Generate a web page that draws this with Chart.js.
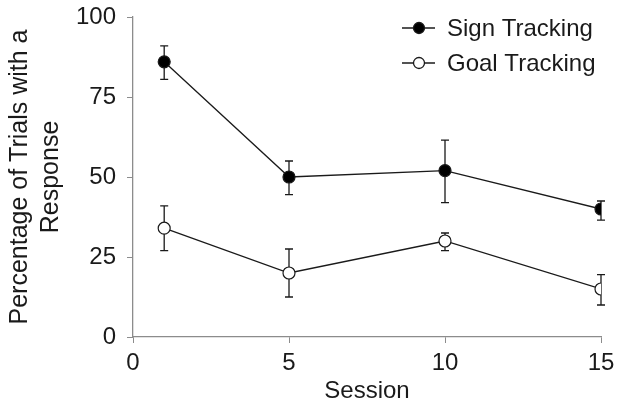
<!DOCTYPE html>
<html>
<head>
<meta charset="utf-8">
<script src="https://cdn.jsdelivr.net/npm/chart.js@4/dist/chart.umd.min.js"></script>
<style>
  html, body { margin: 0; padding: 0; background: #fff; }
  #wrap { width: 617px; height: 408px; }
</style>
</head>
<body>
<div id="wrap"><canvas id="chart"></canvas></div>
<script>
const sessions = [1, 5, 10, 15];
const signTracking = [86, 50, 52, 40];
const signErrLow = [80.5, 44.5, 42, 36.5];
const signErrHigh = [91, 55, 61.5, 42.5];
const goalTracking = [34, 20, 30, 15];
const goalErrLow = [27, 12.5, 27, 10];
const goalErrHigh = [41, 27.5, 32.5, 19.5];
const xTicks = [0, 5, 10, 15];
const yTicks = [0, 25, 50, 75, 100];

const font = 'Arial, "Liberation Sans", sans-serif';
const ink = '#1a1a1a';
const fontSize = 24;

const errorBars = {
    id: 'errorBars',
    beforeDatasetsDraw(chart) {
        const ctx = chart.ctx;
        const xs = chart.scales.x, ys = chart.scales.y;
        const sets = [[signErrLow, signErrHigh], [goalErrLow, goalErrHigh]];
        ctx.save();
        ctx.strokeStyle = ink;
        ctx.lineWidth = 1.3;
        sets.forEach(([lo, hi]) => {
            sessions.forEach((s, i) => {
                const x = xs.getPixelForValue(s);
                const y1 = ys.getPixelForValue(lo[i]);
                const y2 = ys.getPixelForValue(hi[i]);
                ctx.beginPath();
                ctx.moveTo(x, y1); ctx.lineTo(x, y2);
                ctx.moveTo(x - 4, y1); ctx.lineTo(x + 4, y1);
                ctx.moveTo(x - 4, y2); ctx.lineTo(x + 4, y2);
                ctx.stroke();
            });
        });
        ctx.restore();
    }
};

// legend drawn as line-through-marker, like the original figure
const legendBox = {
    id: 'legendBox',
    afterDraw(chart) {
        const ctx = chart.ctx;
        const items = [
            { label: 'Sign Tracking', fill: '#000' },
            { label: 'Goal Tracking', fill: '#fff' }
        ];
        ctx.save();
        items.forEach((it, i) => {
            const y = 28 + i * 35;
            ctx.strokeStyle = ink;
            ctx.lineWidth = 1.3;
            ctx.beginPath();
            ctx.moveTo(402, y); ctx.lineTo(435, y);
            ctx.stroke();
            ctx.beginPath();
            ctx.arc(419, y, 5.5, 0, Math.PI * 2);
            ctx.fillStyle = it.fill;
            ctx.fill();
            ctx.stroke();
            ctx.fillStyle = ink;
            ctx.font = fontSize + 'px ' + font;
            ctx.textBaseline = 'middle';
            ctx.fillText(it.label, 447, y + 1);
        });
        ctx.restore();
    }
};

new Chart(document.getElementById('chart').getContext('2d'), {
    type: 'line',
    data: {
        datasets: [{
            label: 'Sign Tracking',
            data: sessions.map((s, i) => ({ x: s, y: signTracking[i] })),
            borderColor: ink,
            borderWidth: 1.3,
            pointBackgroundColor: '#000',
            pointBorderColor: ink,
            pointRadius: 6,
            pointBorderWidth: 1.2
        }, {
            label: 'Goal Tracking',
            data: sessions.map((s, i) => ({ x: s, y: goalTracking[i] })),
            borderColor: ink,
            borderWidth: 1.3,
            pointBackgroundColor: '#fff',
            pointBorderColor: ink,
            pointRadius: 6,
            pointBorderWidth: 1.2
        }]
    },
    options: {
        responsive: true,
        maintainAspectRatio: false,
        animation: false,
        layout: { padding: { top: 17, right: 16, left: 4, bottom: 2 } },
        plugins: { legend: { display: false }, tooltip: { enabled: false } },
        scales: {
            x: {
                type: 'linear',
                min: 0, max: 15,
                afterBuildTicks: axis => { axis.ticks = xTicks.map(v => ({ value: v })); },
                afterFit: axis => { axis.height = 69; axis.paddingLeft = 0; axis.paddingRight = 0; },
                grid: { drawOnChartArea: false, drawTicks: true, tickLength: 6, color: '#8c8c8c' },
                border: { color: '#8c8c8c', width: 1.3 },
                ticks: { color: ink, font: { family: font, size: fontSize }, padding: 6, maxRotation: 0 },
                title: { display: true, text: 'Session', color: ink, font: { family: font, size: fontSize }, padding: { top: 0, bottom: 0 } }
            },
            y: {
                min: 0, max: 100,
                afterBuildTicks: axis => { axis.ticks = yTicks.map(v => ({ value: v })); },
                afterFit: axis => { axis.width = 129; axis.paddingTop = 0; axis.paddingBottom = 0; },
                grid: { drawOnChartArea: false, drawTicks: true, tickLength: 6, color: '#8c8c8c' },
                border: { color: '#8c8c8c', width: 1.3 },
                ticks: { color: ink, font: { family: font, size: fontSize }, padding: 11 },
                title: { display: true, text: ['Percentage of Trials with a', 'Response'], color: ink, font: { family: font, size: 25, lineHeight: 1.25 }, padding: { top: 0, bottom: 0 } }
            }
        }
    },
    plugins: [errorBars, legendBox]
});
</script>
</body>
</html>
